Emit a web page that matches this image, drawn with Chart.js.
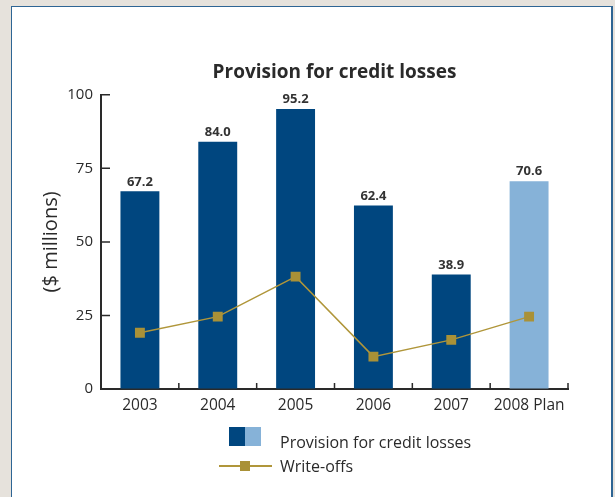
<!DOCTYPE html>
<html lang="en">
<head>
<meta charset="UTF-8">
<title>Provision for credit losses</title>
<script src="https://cdn.jsdelivr.net/npm/chart.js"></script>
<style>
    body { margin: 0; background: #e6e2dc; font-family: "Open Sans", sans-serif; }
    .panel { position: absolute; left: 11px; top: 6px; width: 599px; height: 500px; background: #fff;
             border-top: 1.5px solid #2e6594; border-left: 1.5px solid #2e6594; border-right: 2px solid #2e6594; }
    #chart { position: absolute; left: 0; top: 0; }
    .legend { position: absolute; left: 219px; top: 427px; color: #2a2a2a; font-size: 16px; line-height: 22px; }
    .row { position: absolute; white-space: nowrap; }
    .swatch { position: absolute; width: 16px; height: 19px; }
    .wline { position: absolute; left: 0; top: 38px; width: 53px; height: 2px; background: #b0963a; }
    .wbox { position: absolute; left: 21px; top: 34px; width: 10px; height: 10px; background: #a99137; }
</style>
</head>
<body>
<div class="panel"></div>
<canvas id="chart" width="615" height="497"></canvas>
<div class="legend">
    <div class="swatch" style="left:10px;top:0;background:#00467f"></div>
    <div class="swatch" style="left:26px;top:0;width:16px;background:#86b2d8"></div>
    <div class="row" style="left:61px;top:4px">Provision for credit losses</div>
    <div class="wline"></div>
    <div class="wbox"></div>
    <div class="row" style="left:61px;top:28px">Write-offs</div>
</div>
<script>
const years = ['2003', '2004', '2005', '2006', '2007', '2008 Plan'];
const provision = [67.2, 84.0, 95.2, 62.4, 38.9, 70.6];
const writeOffs = [19.1, 24.6, 38.2, 11.0, 16.7, 24.6];
const yTicks = [0, 25, 50, 75, 100];

const DARK = '#00467f';
const LIGHT = '#86b2d8';
const GOLD = '#b0963a';
const INK = '#2a2a2a';

// plan year gets the lighter blue
const barColors = years.map(y => y.includes('Plan') ? LIGHT : DARK);

// short inward ticks on both axes
const innerTicks = {
    id: 'innerTicks',
    afterDraw(chart) {
        const ctx = chart.ctx;
        const x = chart.scales.x, y = chart.scales.y;
        ctx.save();
        ctx.strokeStyle = INK;
        ctx.lineWidth = 1.5;
        ctx.beginPath();
        yTicks.forEach(v => {
            const py = y.getPixelForValue(v);
            if (v === 0) return;
            ctx.moveTo(x.left, py);
            ctx.lineTo(x.left + 9, py);
        });
        for (let i = 1; i <= years.length; i++) {
            const px = x.getPixelForValue(i - 0.5);
            ctx.moveTo(px, y.bottom);
            ctx.lineTo(px, y.bottom - 6);
        }
        ctx.stroke();
        ctx.restore();
    }
};

// value above each bar
const barValues = {
    id: 'barValues',
    afterDatasetsDraw(chart) {
        const ctx = chart.ctx;
        const meta = chart.getDatasetMeta(1);
        ctx.save();
        ctx.font = 'bold 13px "Open Sans"';
        ctx.fillStyle = '#333';
        ctx.textAlign = 'center';
        ctx.textBaseline = 'bottom';
        meta.data.forEach((bar, i) => {
            ctx.fillText(provision[i].toFixed(1), bar.x, bar.y - 3);
        });
        ctx.restore();
    }
};

new Chart(document.getElementById('chart'), {
    data: {
        labels: years,
        datasets: [
            {
                type: 'line',
                label: 'Write-offs',
                data: writeOffs,
                borderColor: GOLD,
                borderWidth: 1.5,
                pointStyle: 'rect',
                pointRadius: 7,
                pointBackgroundColor: '#a99137',
                pointBorderWidth: 0,
                order: 1
            },
            {
                type: 'bar',
                label: 'Provision for credit losses',
                data: provision,
                backgroundColor: barColors,
                categoryPercentage: 1,
                barPercentage: 0.5,
                order: 2
            }
        ]
    },
    options: {
        responsive: false,
        animation: false,
        layout: { padding: { left: 0, right: 47, top: 0, bottom: 78 } },
        plugins: {
            legend: { display: false },
            tooltip: { enabled: false },
            title: {
                display: true,
                text: 'Provision for credit losses',
                fullSize: false,
                color: INK,
                font: { family: 'Open Sans', size: 19, weight: 'bold' },
                padding: { top: 61, bottom: 11 }
            }
        },
        scales: {
            x: {
                offset: true,
                grid: { display: true, drawOnChartArea: false, drawTicks: false, offset: true },
                border: { color: INK, width: 2 },
                ticks: {
                    color: INK, padding: 7, maxRotation: 0, minRotation: 0, autoSkip: false,
                    font: { family: 'Open Sans', size: 15.5 }
                },
                afterFit(s) { s.height = 30; }
            },
            y: {
                min: 0,
                max: 100,
                afterBuildTicks(s) { s.ticks = yTicks.map(v => ({ value: v })); },
                grid: { display: true, drawOnChartArea: false, drawTicks: false },
                border: { color: INK, width: 2 },
                ticks: { color: INK, padding: 8, font: { family: 'Open Sans', size: 15 } },
                title: {
                    display: true,
                    text: '($ millions)',
                    color: INK,
                    font: { family: 'Open Sans', size: 20 },
                    padding: { top: 39 }
                },
                afterFit(s) { s.width = 101; }
            }
        }
    },
    plugins: [innerTicks, barValues]
});
</script>
</body>
</html>
